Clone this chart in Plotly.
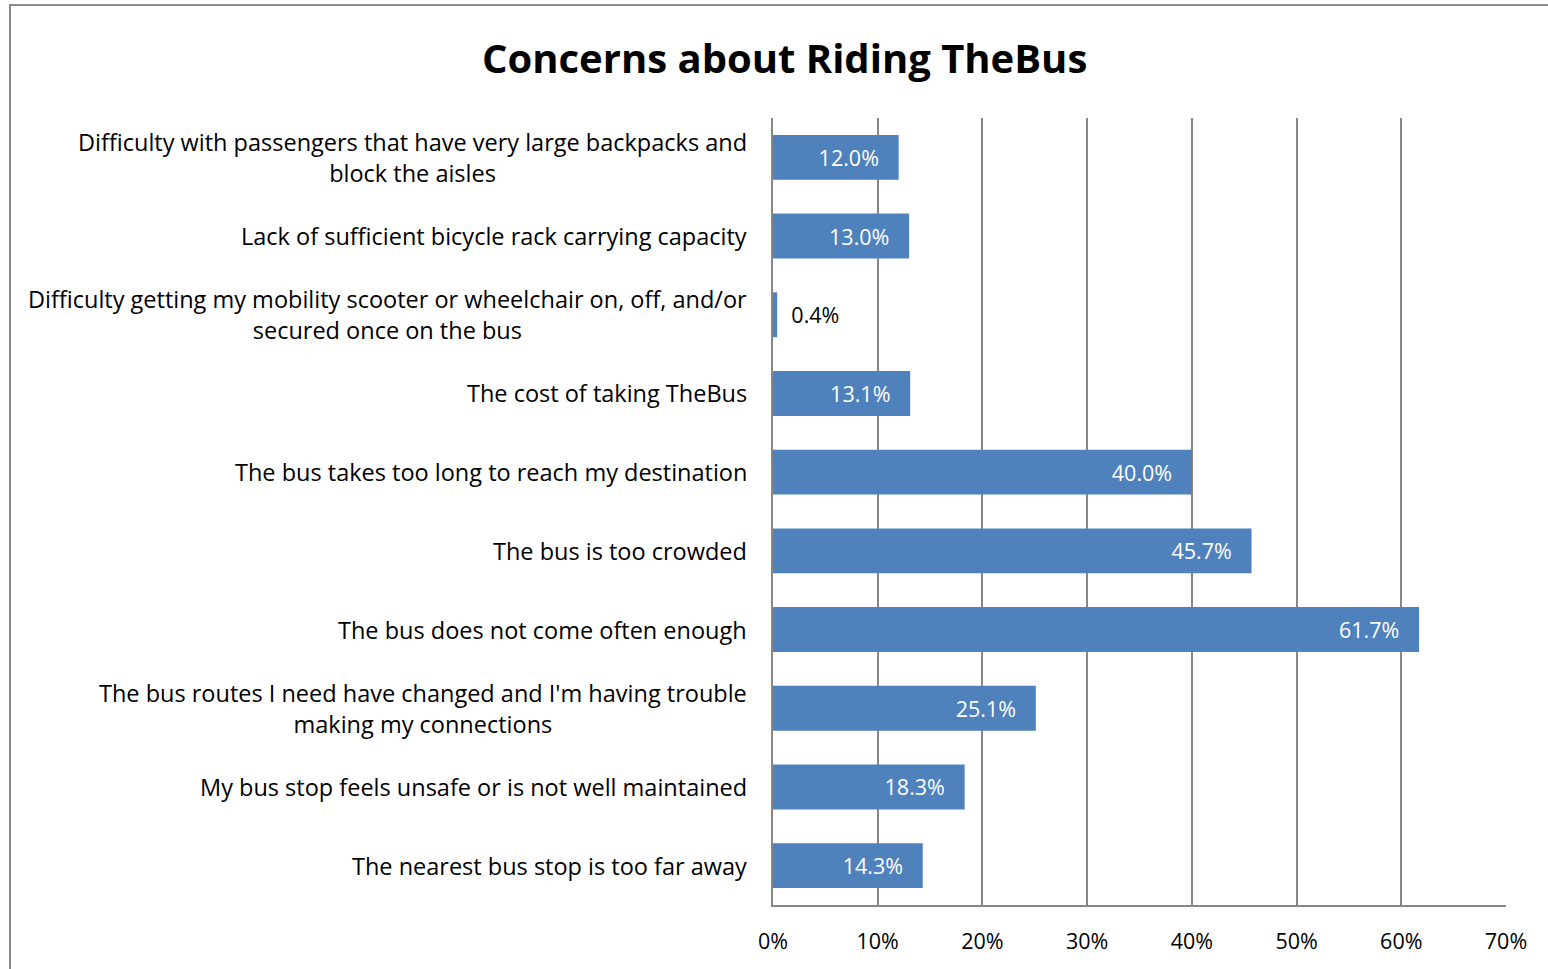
import plotly.graph_objects as go

categories = [
    "Difficulty with passengers that have very large backpacks and<br>block the aisles",
    "Lack of sufficient bicycle rack carrying capacity",
    "Difficulty getting my mobility scooter or wheelchair on, off, and/or<br>secured once on the bus",
    "The cost of taking TheBus",
    "The bus takes too long to reach my destination",
    "The bus is too crowded",
    "The bus does not come often enough",
    "The bus routes I need have changed and I'm having trouble<br>making my connections",
    "My bus stop feels unsafe or is not well maintained",
    "The nearest bus stop is too far away",
]
values = [12.0, 13.0, 0.4, 13.1, 40.0, 45.7, 61.7, 25.1, 18.3, 14.3]
tick_values = [0, 10, 20, 30, 40, 50, 60, 70]
tick_labels = ["0%", "10%", "20%", "30%", "40%", "50%", "60%", "70%"]

W, H = 1548, 969
L, R, T, B = 773, 42, 118, 64
pw, ph = W - L - R, H - T - B

FONT = "Open Sans"
NB = "\u00a0"
positions = ["outside" if v < 3 else "inside" for v in values]
colors = ["black" if v < 3 else "white" for v in values]
templates = [(NB * 2 + "%{x:.1f}%") if v < 3 else ("%{x:.1f}%" + NB * 3) for v in values]

fig = go.Figure()
fig.add_trace(go.Bar(
    y=categories, x=values, orientation="h",
    marker=dict(color="#4F81BD", line=dict(width=0)),
    texttemplate=templates,
    textposition=positions,
    insidetextanchor="end",
    textfont=dict(family=FONT, size=21.5, color=colors),
    cliponaxis=False,
    constraintext="none",
    hoverinfo="skip",
))

annotations = []
for c in categories:
    annotations.append(dict(
        x=0, y=c, xref="paper", yref="y", text=c, showarrow=False,
        xanchor="right", yanchor="middle", align="center", xshift=-24,
        font=dict(family=FONT, size=23.5, color="black"),
    ))
annotations.append(dict(
    x=(784 - L) / pw, y=1 + (T - 57) / ph, xref="paper", yref="paper",
    text="<b>Concerns about Riding TheBus</b>",
    showarrow=False, xanchor="center", yanchor="middle",
    font=dict(family=FONT, size=40, color="black"),
))

fig.update_layout(
    width=W, height=H,
    margin=dict(l=L, r=R, t=T, b=B, pad=0),
    plot_bgcolor="white", paper_bgcolor="white",
    bargap=0.43,
    showlegend=False,
    annotations=annotations,
    xaxis=dict(
        range=[0, 70], tickvals=tick_values, ticktext=tick_labels,
        showgrid=True, gridcolor="#878787", gridwidth=1.5,
        showline=True, linecolor="#878787", linewidth=1.5,
        ticks="", ticklabelstandoff=16,
        tickfont=dict(family=FONT, size=21.5, color="black"),
        zeroline=False, fixedrange=True,
    ),
    yaxis=dict(
        categoryorder="array", categoryarray=categories, autorange="reversed",
        showticklabels=False, showgrid=False,
        showline=True, linecolor="#878787", linewidth=1.5,
        ticks="", zeroline=False, fixedrange=True,
    ),
    shapes=[dict(
        type="rect", xref="paper", yref="paper",
        x0=(10 - L) / pw, x1=(W + 20 - L) / pw,
        y0=-(H + 20 - (H - B)) / ph, y1=1 + (T - 5) / ph,
        line=dict(color="#8C8C8C", width=2), fillcolor="rgba(0,0,0,0)", layer="below",
    )],
)

fig.write_html(
    "out.html",
    config={"displayModeBar": False},
    post_script="document.body.style.margin='0px';document.body.style.overflow='hidden';",
)
